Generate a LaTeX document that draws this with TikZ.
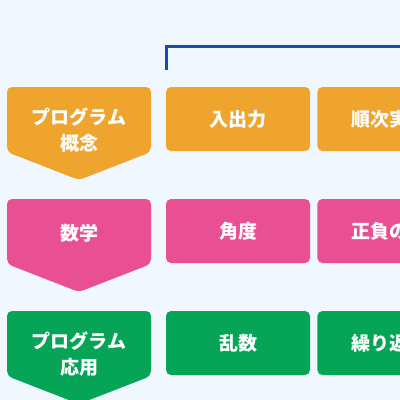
\documentclass[tikz,border=0pt]{standalone}
\usepackage{fontspec}
\setmainfont{Noto Sans CJK JP}
\usetikzlibrary{positioning}
\definecolor{pageBg}{HTML}{F0F7FE}
\definecolor{kOrange}{HTML}{EFA42E}
\definecolor{kPink}{HTML}{E94F93}
\definecolor{kGreen}{HTML}{05A457}
\definecolor{kBlue}{HTML}{1E4BA6}
\tikzset{
  label text/.style={text=white,font=\bfseries\fontsize{19}{26}\selectfont,align=center},
  topic box/.style={rounded corners=5pt,minimum width=144pt,minimum height=64pt,inner sep=0pt},
  row arrow/.style={rounded corners=5pt}
}
\begin{document}
\begin{tikzpicture}[x=1pt,y=-1pt]
  \useasboundingbox (0,0) rectangle (400,400);
  \clip (0,0) rectangle (400,400);
  \fill[pageBg] (0,0) rectangle (400,400);
  % bracket over the topics
  \coordinate (brkFoot) at (166.5,70);
  \coordinate (brkEnd) at (410,46);
  \draw[kBlue,line width=3pt] (brkFoot) |- (brkEnd);
  % rows: colour / top / label offset / left label / topics
  \foreach \col/\y/\dy/\name/\txt/\ta/\tb in {kOrange/87/43/concept/{プログラム\\概念}/入出力/順次実行,
      kPink/199/34/math/{数学}/角度/正負の数,
      kGreen/311/43/apply/{プログラム\\応用}/乱数/繰り返し}{
    \fill[\col,row arrow] (7,\y) -- (151,\y) -- (151,\y+65) -- (79,\y+93) -- (7,\y+65) -- cycle;
    \node[label text] (\name) at (79,\y+\dy) {\txt};
    \node[topic box,fill=\col,label text] (\name-a) at (238,\y+32) {\ta};
    \node[topic box,fill=\col,label text,right=7pt of \name-a] (\name-b) {\tb};
  }
\end{tikzpicture}
\end{document}
